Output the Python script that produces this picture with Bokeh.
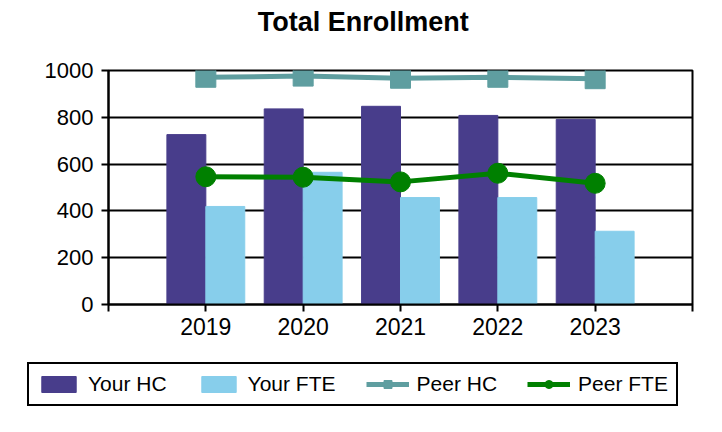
from bokeh.plotting import figure
from bokeh.layouts import column
from bokeh.models import (ColumnDataSource, Legend, LegendItem, FixedTicker, Range1d, Label)
from bokeh.embed import file_html
from bokeh.resources import INLINE

years = ["2019", "2020", "2021", "2022", "2023"]
your_hc = [726, 836, 847, 808, 791]
your_fte = [419, 565, 457, 457, 313]
peer_hc = [971, 976, 967, 971, 965]
peer_fte = [546, 544, 524, 561, 518]
title_text = "Total Enrollment"

xpos = list(range(1, len(years) + 1))
src = ColumnDataSource(dict(
    x=xpos,
    x_hc=[x - 0.2 for x in xpos],
    x_fte=[x + 0.2 for x in xpos],
    your_hc=your_hc, your_fte=your_fte, peer_hc=peer_hc, peer_fte=peer_fte,
))

FONT = "Liberation Sans"
C_HC, C_FTE, C_PHC, C_PFTE = "#483D8B", "#87CEEB", "#5F9EA0", "#008000"


def draw(fig, msize):
    hc = fig.vbar(x="x_hc", top="your_hc", width=0.4, source=src,
                  fill_color=C_HC, line_color=C_HC)
    fte = fig.vbar(x="x_fte", top="your_fte", width=0.4, source=src,
                   fill_color=C_FTE, line_color=C_FTE)
    phl = fig.line(x="x", y="peer_hc", source=src, line_color=C_PHC, line_width=5)
    phm = fig.scatter(x="x", y="peer_hc", source=src, marker="square", size=msize,
                      fill_color=C_PHC, line_color=C_PHC)
    pfl = fig.line(x="x", y="peer_fte", source=src, line_color=C_PFTE, line_width=5)
    pfm = fig.scatter(x="x", y="peer_fte", source=src, marker="circle", size=msize,
                      fill_color=C_PFTE, line_color=C_PFTE)
    return hc, fte, phl, phm, pfl, pfm


def blank(h, xr, yr):
    f = figure(width=W, height=h, output_backend="svg", toolbar_location=None,
               x_range=xr, y_range=yr, min_border_left=0, min_border_right=0,
               min_border_top=0, min_border_bottom=0)
    f.frame_align = False
    f.xaxis.visible = False
    f.yaxis.visible = False
    f.grid.visible = False
    f.outline_line_color = None
    f.background_fill_color = "white"
    f.border_fill_color = "white"
    return f


W = 714

# title strip
tf = blank(54, Range1d(0, 1), Range1d(0, 1))
tf.add_layout(Label(x=0.508, y=0.60, text=title_text, text_align="center",
                    text_baseline="alphabetic", text_font=FONT,
                    text_font_size="27px", text_font_style="bold",
                    text_color="black"))

# main chart
p = figure(width=W, height=296, output_backend="svg", toolbar_location=None,
           x_range=Range1d(0, len(years) + 1), y_range=Range1d(0, 1000),
           min_border_left=108, min_border_right=W - 692, min_border_top=16,
           min_border_bottom=46)
p.frame_align = False
draw(p, 20)

p.xaxis.ticker = FixedTicker(ticks=list(range(0, len(years) + 2)))
overrides = {0: "", len(years) + 1: ""}
for i, y in enumerate(years):
    overrides[i + 1] = y
p.xaxis.major_label_overrides = overrides
p.yaxis.ticker = FixedTicker(ticks=[0, 200, 400, 600, 800, 1000])
for ax in (p.xaxis[0], p.yaxis[0]):
    ax.axis_line_color = "black"
    ax.axis_line_width = 2
    ax.major_tick_line_color = "black"
    ax.major_tick_line_width = 2
    ax.major_tick_out = 7
    ax.major_tick_in = 0
    ax.minor_tick_line_color = None
    ax.major_label_text_font = FONT
    ax.major_label_text_color = "black"
p.yaxis.major_label_text_font_size = "22px"
p.xaxis.major_label_text_font_size = "23px"
p.yaxis.major_label_standoff = 8
p.xaxis.major_label_standoff = 6

p.xgrid.grid_line_color = None
p.ygrid.grid_line_color = "black"
p.ygrid.grid_line_width = 2
p.outline_line_color = "black"
p.outline_line_width = 2
p.background_fill_color = "white"
p.border_fill_color = "white"

# legend strip (its glyphs lie outside its visible range; only the legend shows)
lg = blank(74, Range1d(10, 16), Range1d(2000, 3000))
hc, fte, phl, phm, pfl, pfm = draw(lg, 10)

legend = Legend(items=[
    LegendItem(label="Your HC", renderers=[hc]),
    LegendItem(label="Your FTE", renderers=[fte]),
    LegendItem(label="Peer HC", renderers=[phl, phm]),
    LegendItem(label="Peer FTE", renderers=[pfl, pfm]),
], orientation="horizontal", location=(27, 18))
legend.label_text_font = FONT
legend.label_text_font_size = "21px"
legend.label_text_color = "black"
legend.glyph_width = 43
legend.glyph_height = 20
legend.label_standoff = 8
legend.spacing = 30
legend.padding = 8
legend.margin = 0
legend.border_line_color = "black"
legend.border_line_width = 2
legend.border_line_alpha = 1
legend.background_fill_alpha = 1
lg.add_layout(legend, "center")

layout = column(tf, p, lg, spacing=0)
open("out.html", "w").write(file_html(layout, INLINE))
